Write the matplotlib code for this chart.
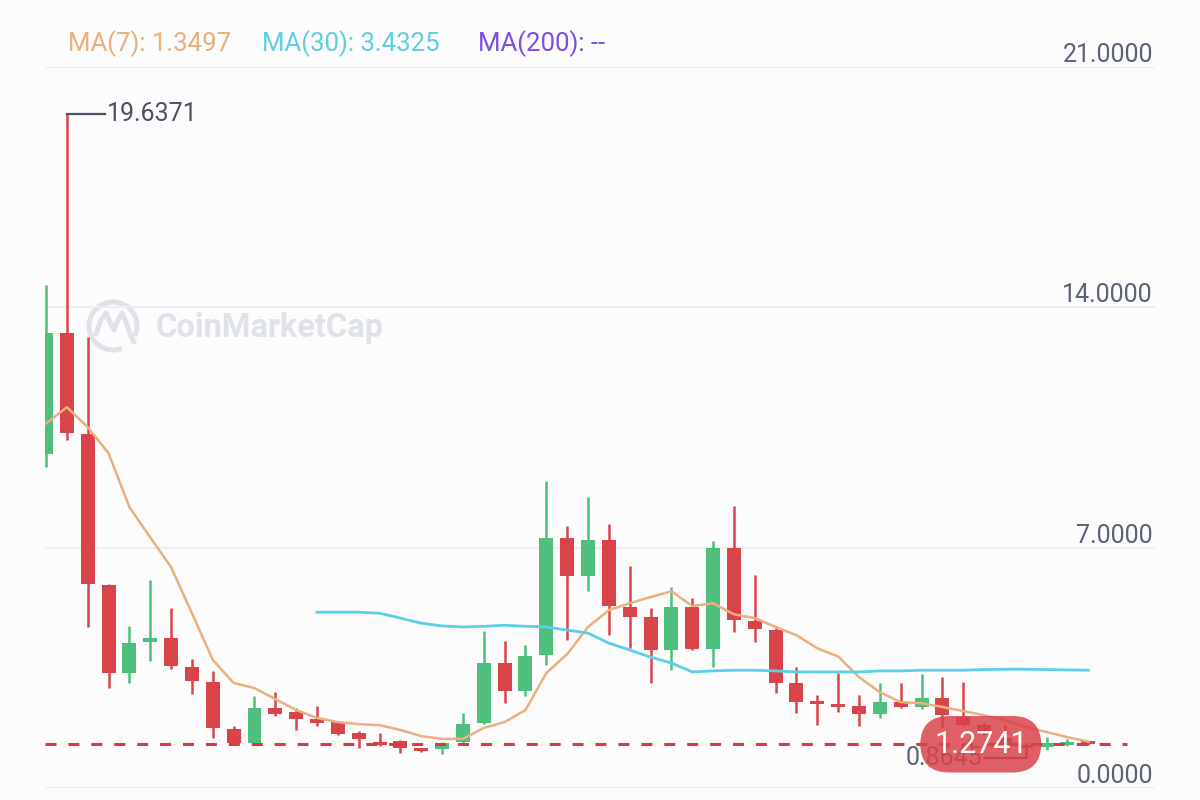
import numpy as np
import matplotlib.pyplot as plt
from matplotlib.patches import Arc
from matplotlib.transforms import Affine2D

plt.rcParams['font.family'] = ['Roboto', 'DejaVu Sans']

# candles
abertura = [9.72, 13.24, 10.30, 5.91, 3.35, 4.25, 4.37, 3.52, 3.08, 1.72,
            1.30, 2.33, 2.21, 2.01, 1.92, 1.60, 1.34, 1.37, 1.14, 1.14,
            1.34, 1.89, 3.64, 2.82, 3.87, 7.28, 6.17, 7.22, 5.27, 4.98,
            4.02, 5.27, 4.05, 6.98, 4.86, 4.60, 3.06, 2.50, 2.44, 2.39,
            2.15, 2.50, 2.36, 2.62, 2.07, 1.83, 1.46, 1.25, 1.19, 1.25, 1.30]
maxima = [14.64, 19.6371, 13.13, 5.93, 4.71, 6.05, 5.24, 3.75, 3.41, 1.80,
          2.68, 2.79, 2.33, 2.39, 1.95, 1.66, 1.60, 1.40, 1.16, 1.33,
          2.18, 4.57, 4.28, 4.16, 8.93, 7.63, 8.47, 7.68, 6.46, 5.24,
          5.85, 5.53, 7.19, 8.21, 6.20, 4.66, 3.52, 2.71, 3.35, 2.71,
          3.06, 3.06, 3.32, 3.23, 3.08, 1.90, 1.83, 1.30, 1.48, 1.43, 1.31]
minima = [9.34, 10.13, 4.69, 2.91, 3.06, 3.70, 3.46, 2.74, 1.46, 1.28,
          1.28, 2.10, 1.69, 1.80, 1.55, 1.16, 1.22, 1.02, 1.06, 0.99,
          1.32, 1.87, 2.47, 2.68, 3.58, 4.31, 5.73, 4.45, 4.07, 3.06,
          3.43, 4.02, 3.52, 4.54, 4.25, 2.76, 2.18, 1.83, 2.21, 1.80,
          2.04, 2.33, 2.30, 1.78, 1.80, 1.55, 1.22, 0.8645, 1.10, 1.22, 1.25]
fechamento = [13.24, 10.33, 5.94, 3.35, 4.22, 4.37, 3.55, 3.11, 1.75, 1.30,
              2.33, 2.15, 2.01, 1.89, 1.57, 1.43, 1.25, 1.16, 1.08, 1.31,
              1.86, 3.64, 2.82, 3.84, 7.28, 6.17, 7.22, 5.30, 4.98, 4.02,
              5.27, 4.05, 6.98, 4.89, 4.63, 3.06, 2.50, 2.45, 2.36, 2.15,
              2.50, 2.36, 2.62, 2.12, 1.83, 1.63, 1.25, 1.16, 1.31, 1.31, 1.2741]

ma7 = [10.62, 11.09, 10.51, 9.75, 8.18, 7.30, 6.43, 5.09, 3.73, 3.06,
       2.91, 2.59, 2.27, 2.04, 1.92, 1.86, 1.83, 1.69, 1.51, 1.43,
       1.43, 1.75, 1.92, 2.27, 3.35, 3.90, 4.69, 5.18, 5.38, 5.56,
       5.73, 5.30, 5.38, 5.06, 4.95, 4.69, 4.45, 4.07, 3.83, 3.23,
       2.79, 2.50, 2.47, 2.36, 2.24, 2.12, 1.98, 1.78, 1.63, 1.48, 1.35]
ma30 = [np.nan] * 13 + [
    5.12, 5.12, 5.12, 5.09, 4.95, 4.80, 4.72, 4.69, 4.71, 4.74,
    4.71, 4.69, 4.60, 4.51, 4.22, 4.02, 3.81, 3.64, 3.38, 3.41,
    3.43, 3.43, 3.41, 3.38, 3.38, 3.38, 3.38, 3.41, 3.41, 3.43,
    3.43, 3.43, 3.45, 3.46, 3.46, 3.45, 3.44, 3.43]

rotulos_y = [0, 7, 14, 21]
legenda = ['MA(7): 1.3497', 'MA(30): 3.4325', 'MA(200): --']
ultimo = 1.2741
idx_max = 1
idx_min = 47

verde = '#4fbf7e'
vermelho = '#d8444a'
fundo = '#fcfcfd'

fig = plt.figure(figsize=(12, 8), dpi=100, facecolor=fundo)
ax = fig.add_axes([45 / 1200, 12 / 800, 1110 / 1200, 721 / 800], facecolor=fundo)

x = np.arange(len(abertura))
o = np.array(abertura)
c = np.array(fechamento)
cores = np.where(c >= o, verde, vermelho)

# wicks and bodies
ax.vlines(x, minima, maxima, colors=cores, lw=1.8, zorder=2)
base = np.minimum(o, c)
altura = np.maximum(np.abs(c - o), 0.09)
ax.bar(x, altura, bottom=base, width=0.67, color=cores, zorder=3)

# moving averages
ax.plot(x, ma7, color='#ebb07c', lw=1.8, zorder=4, solid_joinstyle='round')
ax.plot(x, ma30, color='#5ccfe8', lw=2.0, zorder=4, solid_joinstyle='round')

# last price line
ax.axhline(ultimo, xmin=0, xmax=0.975, color='#d63c42', lw=2.2,
           ls=(0, (3.6, 3.9)), zorder=5)

# max / min markers
ax.plot([idx_max, idx_max + 1.85], [maxima[idx_max]] * 2, color='#4b5366', lw=1.6, zorder=5)
ax.text(idx_max + 1.92, maxima[idx_max], f'{maxima[idx_max]:.4f}', va='center', ha='left',
        fontsize=18, color='#4a5262')
ax.plot([idx_min, idx_min - 2.0], [minima[idx_min]] * 2, color='#4b5366', lw=1.6, zorder=5)
ax.text(idx_min - 2.1, minima[idx_min], f'{minima[idx_min]:.4f}', va='center', ha='right',
        fontsize=18, color='#5b6374', zorder=5)

# last price pill
ax.text(44.84, ultimo, f'{ultimo:.4f}', ha='center', va='center', fontsize=22, color='white',
        zorder=10, bbox=dict(boxstyle='round,pad=0.45,rounding_size=0.95', fc='#d9434a',
                             ec='none', alpha=0.85))

ax.set_xlim(-0.05, 53.2)
ax.set_ylim(0, 21)
ax.set_xticks([])
ax.set_yticks(rotulos_y)
ax.set_yticklabels([f'{v:.4f}' for v in rotulos_y])
ax.yaxis.tick_right()
ax.tick_params(axis='y', length=0, pad=-1.5, labelsize=18, labelcolor='#5b6374')
for lbl in ax.get_yticklabels():
    lbl.set_ha('right')
    lbl.set_va('bottom')
ax.grid(axis='y', color='#eceef2', lw=1.6)
ax.set_axisbelow(True)
for s in ax.spines.values():
    s.set_visible(False)

# watermark
px = Affine2D().scale(1 / 1200, 1 / 800) + fig.transFigure
cinza = '#dfe2e8'
ax.add_patch(Arc((113, 474), 48, 48, theta1=-25, theta2=292, lw=3.6, color=cinza,
                 transform=px, zorder=0.5, clip_on=False))
onda_x = [96, 101, 106, 110, 114, 118, 122, 126, 130, 134]
onda_y = [466, 480, 487, 478, 470, 480, 487, 478, 466, 458]
ax.plot(onda_x, onda_y, color=cinza, lw=3.6, transform=px, zorder=0.5, clip_on=False,
        solid_capstyle='round', solid_joinstyle='round')
ax.text(156, 472, 'CoinMarketCap', transform=px, fontsize=23.5, fontweight='bold',
        color=cinza, va='center', ha='left', zorder=0.5)

# legend on top
pos_leg = [68, 262, 478]
cores_leg = ['#e9b07c', '#5ccfe3', '#7d4fe0']
for txt, xp, cl in zip(legenda, pos_leg, cores_leg):
    fig.text(xp / 1200, 1 - 44 / 800, txt, color=cl, fontsize=18.5, va='center', ha='left')

fig.savefig('out.png', dpi=100, facecolor=fundo)
